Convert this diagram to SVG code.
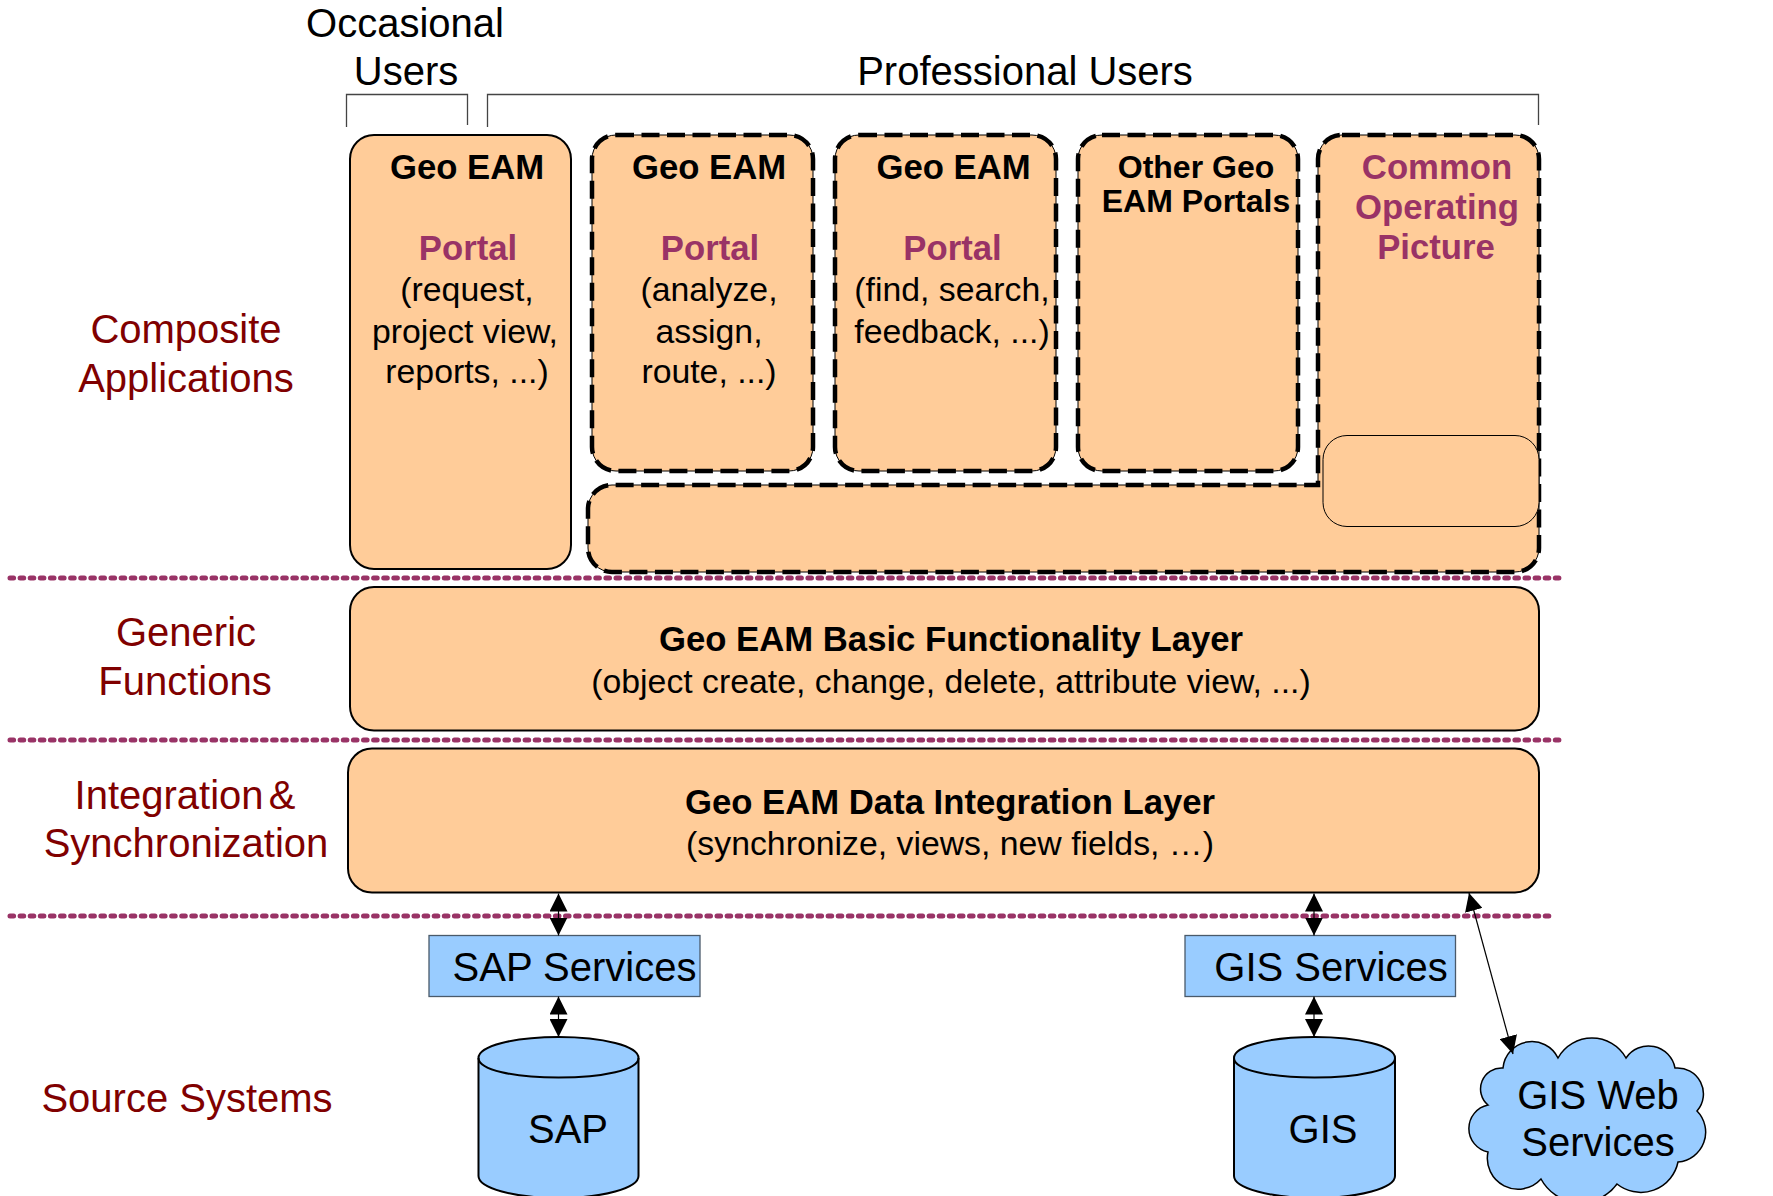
<svg xmlns="http://www.w3.org/2000/svg" width="1773" height="1196" viewBox="0 0 1773 1196">
<style>
text{font-family:"Liberation Sans",Arial,sans-serif;text-anchor:middle;fill:#000}
.u{font-size:40px}
.l{font-size:40px;fill:#800000}
.b{font-size:34.700px;font-weight:bold}
.p{font-weight:bold;font-size:34.700px;fill:#993366}
.t{font-size:33.800px}
.o{font-size:32px;font-weight:bold}
.peach{fill:#FFCC99;stroke:#000;stroke-width:2}
.thin{fill:#FFCC99;stroke:#000;stroke-width:1}
.dash{fill:none;stroke:#000;stroke-width:4.500;stroke-dasharray:18 7.5}
.blue{fill:#99CCFF;stroke:#000;stroke-width:2}
.svc{fill:#99CCFF;stroke:#4a5a6a;stroke-width:1.3}
.dot{fill:none;stroke:#993366;stroke-width:5;stroke-linecap:round;stroke-dasharray:3.6 6.5}
.br{fill:none;stroke:#444;stroke-width:1.3}
.c{fill:none;stroke:#000;stroke-width:1.200;marker-start:url(#ah);marker-end:url(#ah)}
</style>
<defs>
<marker id="ah" markerUnits="userSpaceOnUse" markerWidth="18" markerHeight="18" refX="16" refY="8" orient="auto-start-reverse" viewBox="0 0 16 16"><path d="M0 0L16 8L0 16Z" fill="#000"/></marker>
</defs>
<rect width="1773" height="1196" fill="#fff"/>

<g id="header-occasional">
<path class="br" d="M346.500 127V94.500H467.500V125"/>
<text class="u" x="405" y="37">Occasional</text>
<text class="u" x="406" y="85">Users</text>
</g>
<g id="header-professional">
<path class="br" d="M487.500 127V94.500H1538.500V125"/>
<text class="u" x="1025" y="85">Professional Users</text>
</g>

<g id="label-composite"><text class="l" x="186" y="343">Composite</text><text class="l" x="186" y="392">Applications</text></g>
<g id="label-generic"><text class="l" x="186" y="646">Generic</text><text class="l" x="185" y="695">Functions</text></g>
<g id="label-integration"><text class="l" x="185" y="809" style="word-spacing:-6px">Integration &amp;</text><text class="l" x="186" y="857">Synchronization</text></g>
<g id="label-source"><text class="l" x="187" y="1112">Source Systems</text></g>

<g id="portal-occasional">
<rect class="peach" x="350" y="135" width="221" height="434" rx="24"/>
<text class="b" x="467" y="179">Geo EAM</text>
<text class="p" x="468" y="260">Portal</text>
<text class="t" x="467" y="301">(request,</text>
<text class="t" x="465" y="343">project view,</text>
<text class="t" x="467" y="383">reports, ...)</text>
</g>
<g id="portal-analyze">
<rect class="thin" x="592" y="135" width="221" height="336" rx="24"/>
<rect class="dash" x="592" y="135" width="221" height="336" rx="24"/>
<text class="b" x="709" y="179">Geo EAM</text>
<text class="p" x="710" y="260">Portal</text>
<text class="t" x="709" y="301">(analyze,</text>
<text class="t" x="709" y="343">assign,</text>
<text class="t" x="709" y="383">route, ...)</text>
</g>
<g id="portal-find">
<rect class="thin" x="835" y="135" width="221" height="336" rx="24"/>
<rect class="dash" x="835" y="135" width="221" height="336" rx="24"/>
<text class="b" x="953.500" y="179">Geo EAM</text>
<text class="p" x="952.500" y="260">Portal</text>
<text class="t" x="952" y="301">(find, search,</text>
<text class="t" x="952" y="343">feedback, ...)</text>
</g>
<g id="portal-other">
<rect class="thin" x="1078" y="135" width="220" height="336" rx="24"/>
<rect class="dash" x="1078" y="135" width="220" height="336" rx="24"/>
<text class="o" x="1196" y="178">Other Geo</text>
<text class="o" x="1196" y="212">EAM Portals</text>
</g>
<g id="common-operating-picture">
<path class="thin" d="M1342 135H1515A24 24 0 0 1 1539 159V548A24 24 0 0 1 1515 572H612A24 24 0 0 1 588 548V508A24 24 0 0 1 612 485H1318V159A24 24 0 0 1 1342 135Z"/>
<path class="dash" d="M1342 135H1515A24 24 0 0 1 1539 159V548A24 24 0 0 1 1515 572H612A24 24 0 0 1 588 548V508A24 24 0 0 1 612 485H1318V159A24 24 0 0 1 1342 135Z"/>
<text class="p" x="1437" y="179">Common</text>
<text class="p" x="1437" y="219">Operating</text>
<text class="p" x="1436" y="259">Picture</text>
</g>
<g id="common-inner">
<rect class="thin" x="1323" y="435.500" width="216" height="91" rx="24"/>
</g>
<g id="layer-basic">
<rect class="peach" x="350" y="587" width="1189" height="143.500" rx="24"/>
<text class="b" x="951" y="650.500">Geo EAM Basic Functionality Layer</text>
<text class="t" x="951" y="693">(object create, change, delete, attribute view, ...)</text>
</g>
<g id="layer-integration">
<rect class="peach" x="348" y="748.500" width="1191" height="144" rx="24"/>
<text class="b" x="950" y="813.500">Geo EAM Data Integration Layer</text>
<text class="t" x="950" y="855">(synchronize, views, new fields, …)</text>
</g>
<g id="sap-services">
<rect class="svc" x="429" y="935.500" width="271" height="61"/>
<text class="u" x="574.500" y="980.500">SAP Services</text>
</g>
<g id="gis-services">
<rect class="svc" x="1185" y="935.500" width="270.500" height="61"/>
<text class="u" x="1331" y="980.500">GIS Services</text>
</g>
<g id="sap-db">
<path class="blue" d="M478.500 1058V1176C478.500 1188 514 1198 558.500 1198S638.500 1188 638.500 1176V1058C638.500 1046 603 1037 558.500 1037S478.500 1046 478.500 1058Z"/>
<path class="blue" style="fill:none" d="M478.500 1058C478.500 1070 514 1077.500 558.500 1077.500S638.500 1070 638.500 1058"/>
<text class="u" x="568" y="1143">SAP</text>
</g>
<g id="gis-db">
<path class="blue" d="M1234 1058V1176C1234 1188 1270 1198 1314.500 1198S1395 1188 1395 1176V1058C1395 1046 1359 1037 1314.500 1037S1234 1046 1234 1058Z"/>
<path class="blue" style="fill:none" d="M1234 1058C1234 1070 1270 1077.500 1314.500 1077.500S1395 1070 1395 1058"/>
<text class="u" x="1323" y="1143">GIS</text>
</g>
<g id="gis-web-services">
<path class="blue" style="stroke-width:1.500" d="M1503 1068A29 29 0 0 1 1558 1058A39 39 0 0 1 1626 1058A27 27 0 0 1 1675 1068A26 26 0 0 1 1697 1111A30 30 0 0 1 1678 1162A38 38 0 0 1 1617 1184A45 45 0 0 1 1541 1179A30.800 30.800 0 0 1 1488 1152A24 24 0 0 1 1488 1105A21 21 0 0 1 1503 1068Z"/>
<text class="u" x="1598" y="1109">GIS Web</text>
<text class="u" x="1598" y="1156">Services</text>
</g>

<g id="separators">
<path class="dot" d="M10 578H1560"/>
<path class="dot" d="M10 740H1560"/>
<path class="dot" d="M10 916H1550"/>
</g>
<g id="connectors">
<path class="c" d="M558.500 893.500V935.500"/>
<path class="c" d="M558.500 996.500V1037"/>
<path class="c" d="M1314 893.500V935.500"/>
<path class="c" d="M1314 996.500V1037"/>
<path class="c" d="M1469 893L1513 1054"/>
</g>
</svg>
